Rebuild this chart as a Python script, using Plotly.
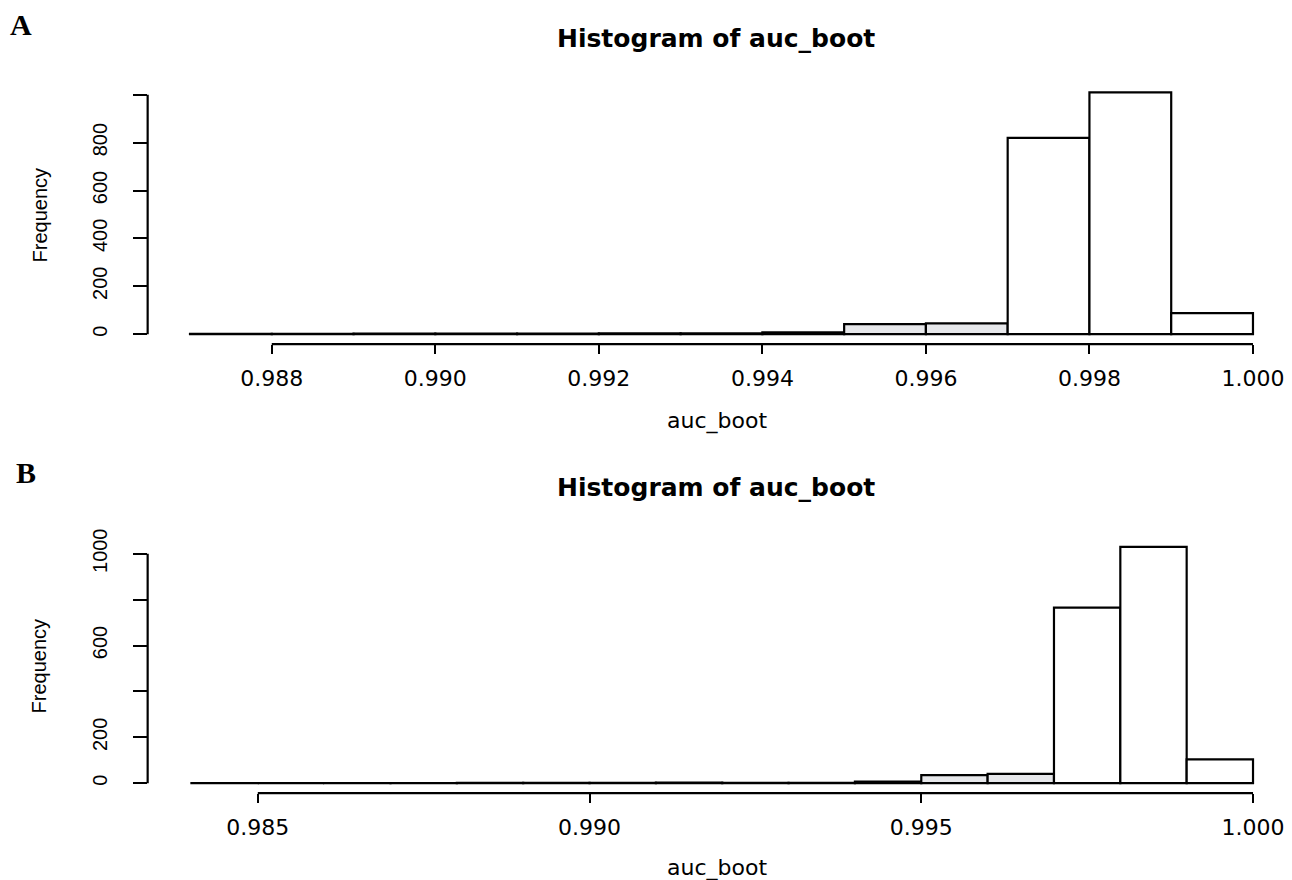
import plotly.graph_objects as go

# ---------------- data ----------------
a_bin_starts = [0.987, 0.988, 0.989, 0.990, 0.991, 0.992, 0.993, 0.994, 0.995, 0.996, 0.997, 0.998, 0.999]
a_counts = [1, 1, 2, 2, 2, 3, 3, 8, 42, 45, 820, 1010, 88]
a_xticks = [0.988, 0.990, 0.992, 0.994, 0.996, 0.998, 1.000]
a_xticklabels = ["0.988", "0.990", "0.992", "0.994", "0.996", "0.998", "1.000"]
a_yticks = [0, 200, 400, 600, 800, 1000]
a_yticklabels = ["0", "200", "400", "600", "800", ""]

b_bin_starts = [0.984, 0.985, 0.986, 0.987, 0.988, 0.989, 0.990, 0.991, 0.992, 0.993, 0.994, 0.995, 0.996, 0.997, 0.998, 0.999]
b_counts = [1, 0, 1, 1, 2, 2, 2, 3, 2, 2, 7, 35, 41, 765, 1030, 104]
b_xticks = [0.985, 0.990, 0.995, 1.000]
b_xticklabels = ["0.985", "0.990", "0.995", "1.000"]
b_yticks = [0, 200, 400, 600, 800, 1000]
b_yticklabels = ["0", "200", "", "600", "", "1000"]

bin_width = 0.001
title_text = "Histogram of auc_boot"
x_title = "auc_boot"
y_title = "Frequency"

# ---------------- style ----------------
W, H = 1292, 880
shaded_bins = [0.995, 0.996]
LINE_W = 2.2
TICK_FONT = dict(family="DejaVu Sans", size=22, color="black")
YTICK_FONT = dict(family="Liberation Sans", size=20, color="black")
TITLE_FONT = dict(family="DejaVu Sans", size=25, color="black")
XT_FONT = dict(family="DejaVu Sans", size=22, color="black")
YT_FONT = dict(family="Liberation Sans", size=20, color="black")
PANEL_FONT = dict(family="Liberation Serif", size=30, color="black")


def colors_for(starts):
    return ["#e6e7ea" if round(s, 3) in shaded_bins else "white" for s in starts]


def px_x(p):
    return p / W


def px_y(p):
    return 1 - p / H


fig = go.Figure()
fig.add_trace(go.Bar(x=a_bin_starts, y=a_counts, width=bin_width, offset=0,
                     marker=dict(color=colors_for(a_bin_starts), line=dict(color="black", width=LINE_W)),
                     xaxis="x", yaxis="y", showlegend=False))
fig.add_trace(go.Bar(x=b_bin_starts, y=b_counts, width=bin_width, offset=0,
                     marker=dict(color=colors_for(b_bin_starts), line=dict(color="black", width=LINE_W)),
                     xaxis="x2", yaxis="y2", showlegend=False))

xdom = [px_x(148), px_x(1284)]
common_x = dict(ticks="outside", ticklen=9, tickwidth=LINE_W, tickcolor="black",
                showline=False, showgrid=False, zeroline=False, tickfont=TICK_FONT,
                ticklabelstandoff=5, fixedrange=True)
common_y = dict(ticks="outside", ticklen=14, tickwidth=LINE_W, tickcolor="black",
                showline=False, showgrid=False, zeroline=False, tickfont=YTICK_FONT,
                tickangle=-90, ticklabelstandoff=18, fixedrange=True)

fig.update_layout(
    width=W, height=H,
    margin=dict(l=0, r=0, t=0, b=0),
    paper_bgcolor="white", plot_bgcolor="white",
    xaxis=dict(domain=xdom, range=[0.986482, 1.000343], anchor="y",
               tickvals=a_xticks, ticktext=a_xticklabels, **common_x),
    yaxis=dict(domain=[px_y(343), px_y(78.6)], range=[-42, 1060], anchor="x",
               tickvals=a_yticks, ticktext=a_yticklabels, **common_y),
    xaxis2=dict(domain=xdom, range=[0.98334, 1.000422], anchor="y2",
                tickvals=b_xticks, ticktext=b_xticklabels, **common_x),
    yaxis2=dict(domain=[px_y(793), px_y(530)], range=[-43.5, 1100], anchor="x2",
                tickvals=b_yticks, ticktext=b_yticklabels, **common_y),
)

# R-style axis lines (from first to last tick)
for xa, ya, xt, yt in [("x", "y", a_xticks, a_yticks), ("x2", "y2", b_xticks, b_yticks)]:
    fig.add_shape(type="line", xref=xa, yref=ya + " domain", x0=xt[0], x1=xt[-1], y0=0, y1=0,
                  line=dict(color="black", width=LINE_W))
    fig.add_shape(type="line", xref=xa + " domain", yref=ya, x0=0, x1=0, y0=yt[0], y1=yt[-1],
                  line=dict(color="black", width=LINE_W))

annots = [
    dict(text="<b>" + title_text + "</b>", x=px_x(718), y=px_y(37), font=TITLE_FONT),
    dict(text="<b>" + title_text + "</b>", x=px_x(718), y=px_y(487), font=TITLE_FONT),
    dict(text=x_title, x=px_x(719), y=px_y(420), font=XT_FONT),
    dict(text=x_title, x=px_x(719), y=px_y(868), font=XT_FONT),
    dict(text=y_title, x=px_x(40), y=px_y(213), font=YT_FONT, textangle=-90),
    dict(text=y_title, x=px_x(40), y=px_y(665), font=YT_FONT, textangle=-90),
    dict(text="<b>A</b>", x=px_x(21), y=px_y(23), font=PANEL_FONT),
    dict(text="<b>B</b>", x=px_x(26), y=px_y(472), font=PANEL_FONT),
]
for a in annots:
    fig.add_annotation(xref="paper", yref="paper", xanchor="center", yanchor="middle",
                       showarrow=False, **a)

fig.write_html("out.html")
